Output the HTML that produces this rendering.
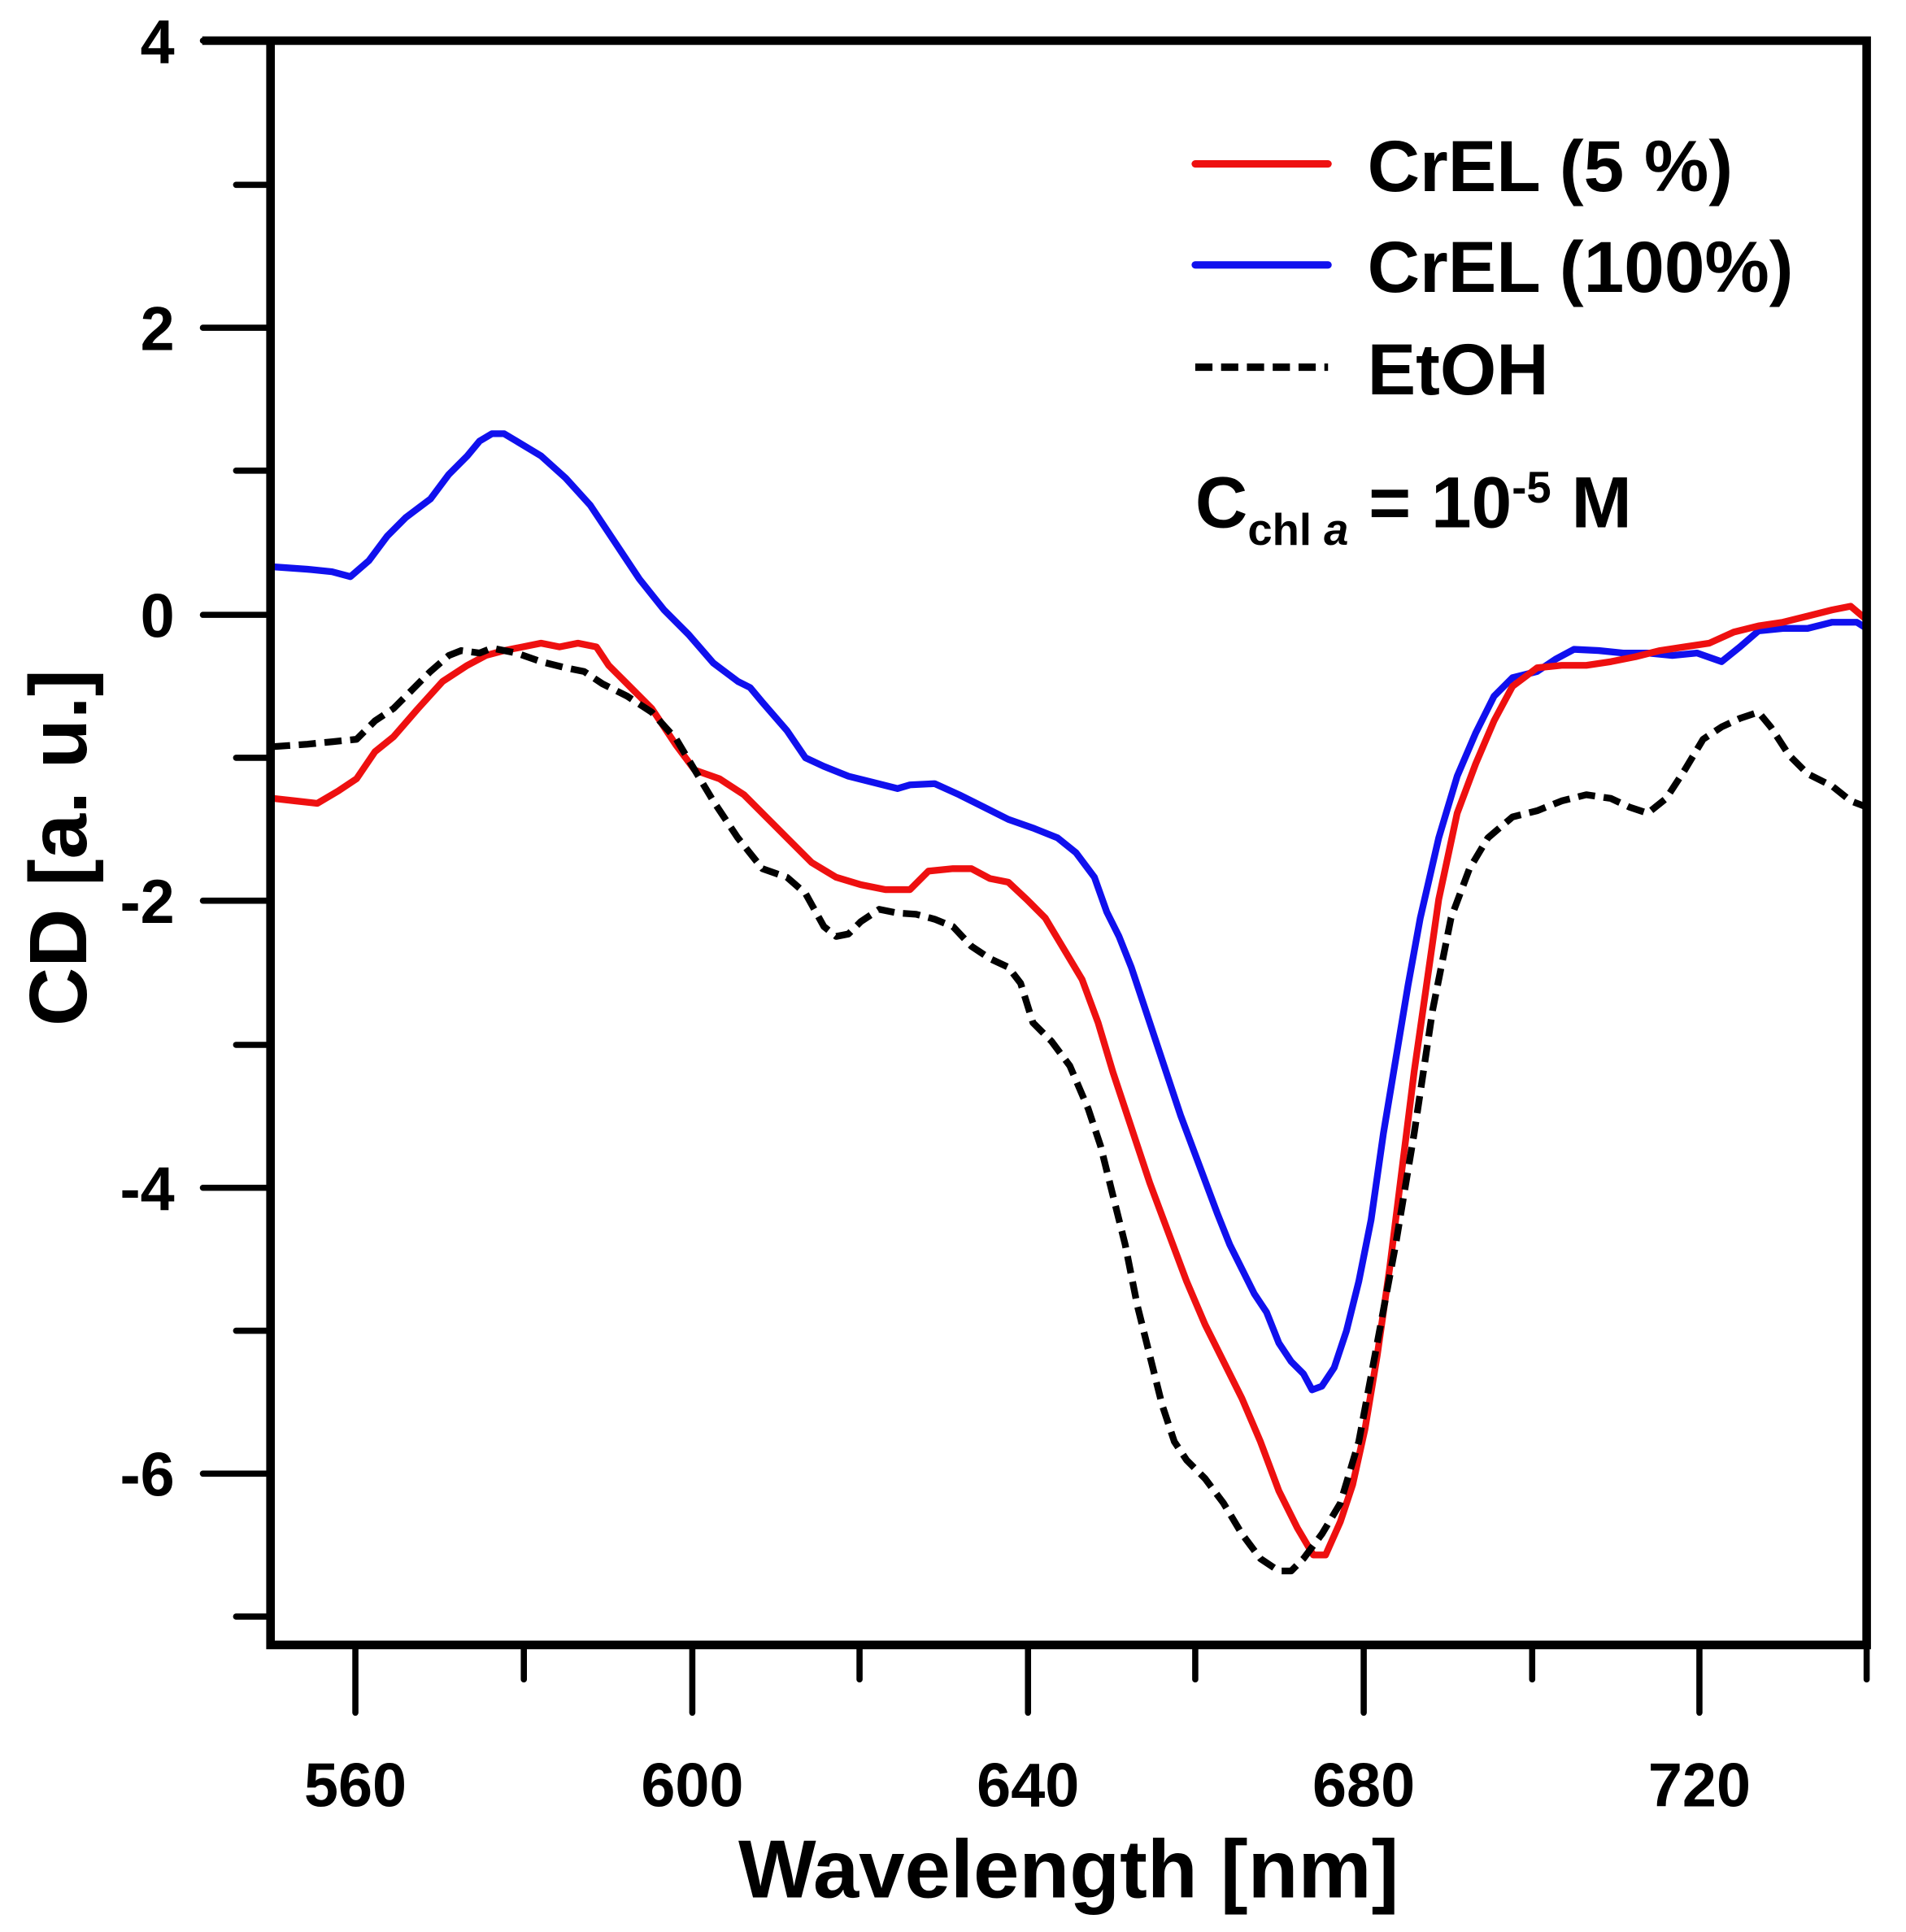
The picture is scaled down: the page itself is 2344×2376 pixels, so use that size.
<!DOCTYPE html>
<html><head><meta charset="utf-8"><style>
html,body{margin:0;padding:0;background:#fff;}
svg{display:block;}
text{font-family:"Liberation Sans",Arial,sans-serif;font-weight:bold;fill:#000;}
</style></head><body>
<svg width="2344" height="2376" viewBox="0 0 1550 1568" preserveAspectRatio="none" xmlns="http://www.w3.org/2000/svg">
<rect width="1550" height="1568" fill="#fff"/>
<g fill="none" stroke-linejoin="round" stroke-linecap="round" stroke-width="5.5">
<polyline stroke="#1010ee" points="222,460 250,462 270,464 285,468 300,455 315,435 330,420 350,405 365,385 380,370 390,358 400,352 410,352 420,358 440,370 460,388 480,410 500,440 520,470 540,495 560,515 580,538 600,553 610,558 620,570 640,593 655,615 670,622 690,630 710,635 730,640 740,637 760,636 780,645 800,655 820,665 840,672 860,680 875,692 890,712 900,740 910,760 920,785 930,815 945,860 960,905 975,945 990,985 1000,1010 1010,1030 1020,1050 1030,1065 1040,1090 1050,1105 1060,1115 1067,1128 1075,1125 1085,1110 1095,1080 1105,1040 1115,990 1125,920 1135,860 1145,800 1155,745 1170,680 1185,630 1200,595 1215,565 1230,550 1250,545 1265,535 1280,527 1300,528 1320,530 1340,530 1360,532 1380,530 1400,537 1415,525 1430,512 1450,510 1470,510 1490,505 1510,505 1518,510"/>
<polyline stroke="#ee1010" points="222,648 240,650 258,652 275,642 290,632 305,610 320,598 340,575 360,553 380,540 395,532 410,528 425,525 440,522 455,525 470,522 485,525 495,540 510,555 530,575 550,605 565,625 585,632 605,645 625,665 640,680 660,700 680,712 700,718 720,722 740,722 755,707 775,705 790,705 805,713 820,716 835,730 850,745 865,770 880,795 893,830 905,870 920,915 935,960 950,1000 965,1040 980,1075 995,1105 1010,1135 1025,1170 1040,1210 1055,1240 1068,1262 1078,1262 1090,1235 1100,1205 1110,1160 1120,1100 1130,1030 1140,950 1150,870 1160,800 1170,730 1185,660 1200,620 1215,585 1230,557 1250,542 1270,540 1290,540 1310,537 1330,533 1350,528 1370,525 1390,522 1410,513 1430,508 1450,505 1470,500 1490,495 1505,492 1518,503"/>
<polyline stroke="#000" stroke-dasharray="14,7" stroke-linecap="butt" points="222,606 250,604 270,602 290,600 305,585 320,575 335,560 350,545 365,532 375,528 390,530 400,526 420,530 440,537 460,542 475,545 490,555 510,565 530,578 550,600 565,625 580,650 600,680 620,705 640,712 655,725 670,752 680,760 690,758 700,748 715,738 730,741 745,742 760,746 775,752 790,768 805,778 820,785 830,798 840,830 855,845 870,865 885,900 895,930 905,970 915,1010 925,1060 935,1100 945,1140 955,1170 965,1185 980,1200 995,1220 1010,1245 1025,1265 1040,1275 1050,1275 1060,1265 1075,1245 1090,1220 1105,1170 1120,1090 1135,1010 1150,920 1165,820 1180,745 1195,705 1210,680 1230,663 1250,658 1270,650 1290,645 1310,648 1325,655 1340,660 1355,648 1370,625 1385,600 1400,590 1415,583 1430,578 1440,590 1455,613 1470,628 1490,638 1505,650 1518,655"/>
</g>
<g stroke="#000" stroke-width="7" fill="none" stroke-linecap="square">
<polyline points="168,33 1518,33 1518,1335 220,1335 220,33"/>
</g>
<g stroke="#000" stroke-width="5" stroke-linecap="round">
<line x1="165" y1="33" x2="220" y2="33"/><line x1="192" y1="150" x2="220" y2="150"/>
<line x1="165" y1="266" x2="220" y2="266"/><line x1="192" y1="382" x2="220" y2="382"/>
<line x1="165" y1="499" x2="220" y2="499"/><line x1="192" y1="615" x2="220" y2="615"/>
<line x1="165" y1="731" x2="220" y2="731"/><line x1="192" y1="848" x2="220" y2="848"/>
<line x1="165" y1="964" x2="220" y2="964"/><line x1="192" y1="1080" x2="220" y2="1080"/>
<line x1="165" y1="1196" x2="220" y2="1196"/><line x1="192" y1="1312" x2="220" y2="1312"/>
<line x1="289" y1="1335" x2="289" y2="1390"/><line x1="426" y1="1335" x2="426" y2="1363"/>
<line x1="563" y1="1335" x2="563" y2="1390"/><line x1="699" y1="1335" x2="699" y2="1363"/>
<line x1="836" y1="1335" x2="836" y2="1390"/><line x1="972" y1="1335" x2="972" y2="1363"/>
<line x1="1109" y1="1335" x2="1109" y2="1390"/><line x1="1246" y1="1335" x2="1246" y2="1363"/>
<line x1="1382" y1="1335" x2="1382" y2="1390"/><line x1="1518" y1="1335" x2="1518" y2="1363"/>
</g>
<g font-size="50" text-anchor="end">
<text x="142" y="51">4</text><text x="142" y="284">2</text><text x="142" y="517">0</text>
<text x="142" y="749">-2</text><text x="142" y="982">-4</text><text x="142" y="1214">-6</text>
</g>
<g font-size="50" text-anchor="middle">
<text x="289" y="1466">560</text><text x="563" y="1466">600</text><text x="836" y="1466">640</text>
<text x="1109" y="1466">680</text><text x="1382" y="1466">720</text>
</g>
<text x="869" y="1540" font-size="67" text-anchor="middle">Wavelength [nm]</text>
<text transform="translate(70,688) rotate(-90)" font-size="66" text-anchor="middle">CD [a. u.]</text>
<g stroke-width="6" stroke-linecap="round">
<line x1="972" y1="133" x2="1080" y2="133" stroke="#ee1010"/>
<line x1="972" y1="215" x2="1080" y2="215" stroke="#1010ee"/>
<line x1="972" y1="298" x2="1080" y2="298" stroke="#000" stroke-dasharray="14,7" stroke-linecap="butt"/>
</g>
<g font-size="59">
<text x="1112" y="155">CrEL (5 %)</text>
<text x="1112" y="237">CrEL (100%)</text>
<text x="1112" y="320">EtOH</text>
<text x="972" y="428">C<tspan font-size="36" dy="14">chl <tspan font-style="italic">a</tspan></tspan><tspan dy="-14"> = 10</tspan><tspan font-size="36" dy="-20">-5</tspan><tspan dy="20"> M</tspan></text>
</g>
</svg>
</body></html>
